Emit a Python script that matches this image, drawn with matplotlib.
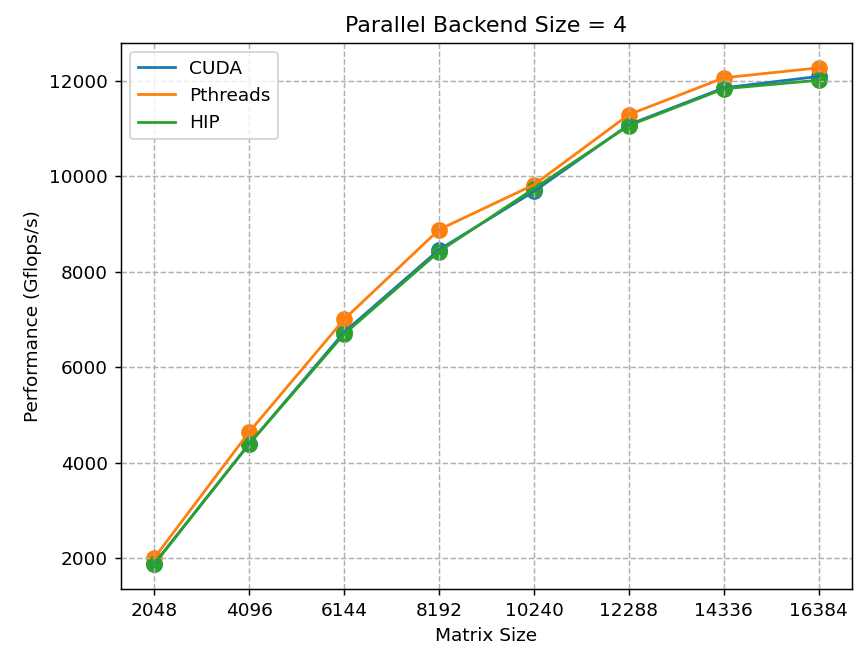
import matplotlib
matplotlib.use("Agg")
import matplotlib.pyplot as plt

# matrix sizes and measured performance (Gflops/s)
sizes = [2048, 4096, 6144, 8192, 10240, 12288, 14336, 16384]
cuda = [1880, 4390, 6730, 8460, 9680, 11080, 11850, 12090]
pthreads = [2000, 4640, 7000, 8880, 9820, 11290, 12060, 12270]
hip = [1870, 4390, 6690, 8420, 9740, 11060, 11830, 12010]

dpi = 133
fig = plt.figure(figsize=(854 / dpi, 656 / dpi), dpi=dpi)
plt.plot(sizes, cuda, label="CUDA")
plt.scatter(sizes, cuda, s=65)
plt.plot(sizes, pthreads, label="Pthreads")
plt.scatter(sizes, pthreads, s=65)
plt.plot(sizes, hip, label="HIP")
plt.scatter(sizes, hip, s=65)

plt.xticks(sizes)
plt.xlabel("Matrix Size")
plt.ylabel("Performance (Gflops/s)")
plt.title("Parallel Backend Size = 4")
plt.grid(linestyle="--")
plt.legend(loc="upper left")
plt.subplots_adjust(left=0.1417, right=0.9977, top=0.9345, bottom=0.1021)
plt.savefig("out.png", dpi=dpi)
